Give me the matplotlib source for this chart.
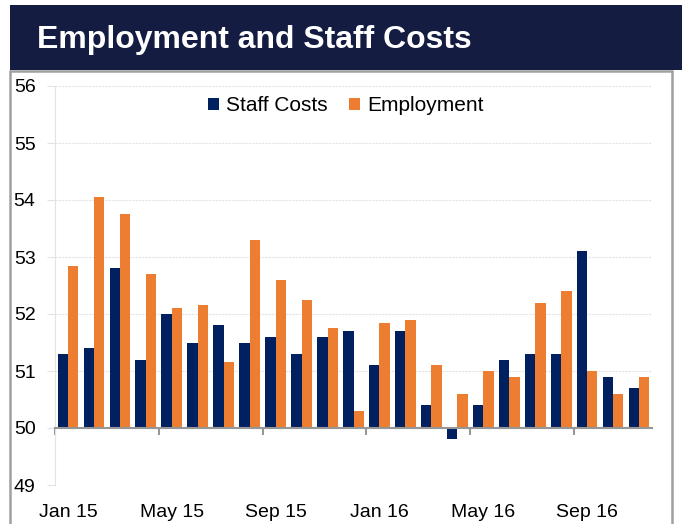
import numpy as np
import matplotlib
matplotlib.use("Agg")
import matplotlib.pyplot as plt
from matplotlib.patches import Rectangle

plt.rcParams["font.family"] = ["Liberation Sans", "DejaVu Sans"]

months = ["Jan 15", "Feb 15", "Mar 15", "Apr 15", "May 15", "Jun 15", "Jul 15", "Aug 15",
          "Sep 15", "Oct 15", "Nov 15", "Dec 15", "Jan 16", "Feb 16", "Mar 16", "Apr 16",
          "May 16", "Jun 16", "Jul 16", "Aug 16", "Sep 16", "Oct 16", "Nov 16"]
staff_costs = [51.3, 51.4, 52.8, 51.2, 52.0, 51.5, 51.8, 51.5, 51.6, 51.3, 51.6, 51.7,
               51.1, 51.7, 50.4, 49.8, 50.4, 51.2, 51.3, 51.3, 53.1, 50.9, 50.7]
employment = [52.85, 54.05, 53.75, 52.7, 52.1, 52.15, 51.15, 53.3, 52.6, 52.25, 51.75, 50.3,
              51.85, 51.9, 51.1, 50.6, 51.0, 50.9, 52.2, 52.4, 51.0, 50.6, 50.9]
base = 50

NAVY = "#002060"
ORANGE = "#ED7D31"
BANNER = "#141C42"
GRID = "#E3E3E3"

fig = plt.figure(figsize=(6.82, 5.24), dpi=100)

# title banner and grey chart frame
fig.patches.append(Rectangle((10 / 682, 1 - 70 / 524), 1, 65 / 524, transform=fig.transFigure,
                             facecolor=BANNER, edgecolor="none", zorder=0))
fig.patches.append(Rectangle((10 / 682, -0.05), 662 / 682, 1.05 - 71 / 524, transform=fig.transFigure,
                             facecolor="white", edgecolor="#A0A0A0", lw=1.8, zorder=0))
fig.text(37 / 682, 1 - 40 / 524, "Employment and Staff Costs", color="white",
         fontsize=23, fontweight="bold", va="center", ha="left")

ax = fig.add_axes([55 / 682, 1 - 485 / 524, 597 / 682, 399 / 524])
ax.set_zorder(2)
ax.patch.set_alpha(0)
x = np.arange(len(months))
w = 0.4
sc = np.array(staff_costs) - base
em = np.array(employment) - base
ax.bar(x - w / 2, sc, w, bottom=base, color=NAVY, label="Staff Costs", zorder=2)
ax.bar(x + w / 2, em, w, bottom=base, color=ORANGE, label="Employment", zorder=2)

ax.set_xlim(-0.5, len(months) - 0.5)
ax.set_ylim(49, 56)
ax.set_yticks(range(49, 57))
ax.grid(axis="y", color=GRID, ls=(0, (2, 1)), lw=0.8, zorder=0)
for s in ["top", "right"]:
    ax.spines[s].set_visible(False)
ax.spines["left"].set_color(GRID)
ax.spines["left"].set_linestyle((0, (2, 1)))
ax.spines["left"].set_linewidth(0.8)
ax.spines["bottom"].set_position(("data", base))
ax.spines["bottom"].set_color("#969696")
ax.spines["bottom"].set_linewidth(1.5)
ax.spines["bottom"].set_zorder(3)

ax.set_xticks(x[::4] - 0.5)
ax.set_xticklabels([])
ax.tick_params(axis="x", length=5, width=1.5, color="#969696", direction="out")
ax.tick_params(axis="y", length=6, width=0.8, color=GRID, labelsize=14, pad=8)

sec = ax.secondary_xaxis("bottom")
sec.set_xticks(x[::4], [months[i] for i in x[::4]])
sec.tick_params(length=0, labelsize=14, pad=14)
sec.spines["bottom"].set_visible(False)

ax.legend(loc="center", bbox_to_anchor=(0.487, 0.95), ncol=2, frameon=False,
          fontsize=15, handlelength=0.55, handleheight=0.55, handletextpad=0.35,
          columnspacing=1.0)

fig.savefig("out.png", dpi=100)
